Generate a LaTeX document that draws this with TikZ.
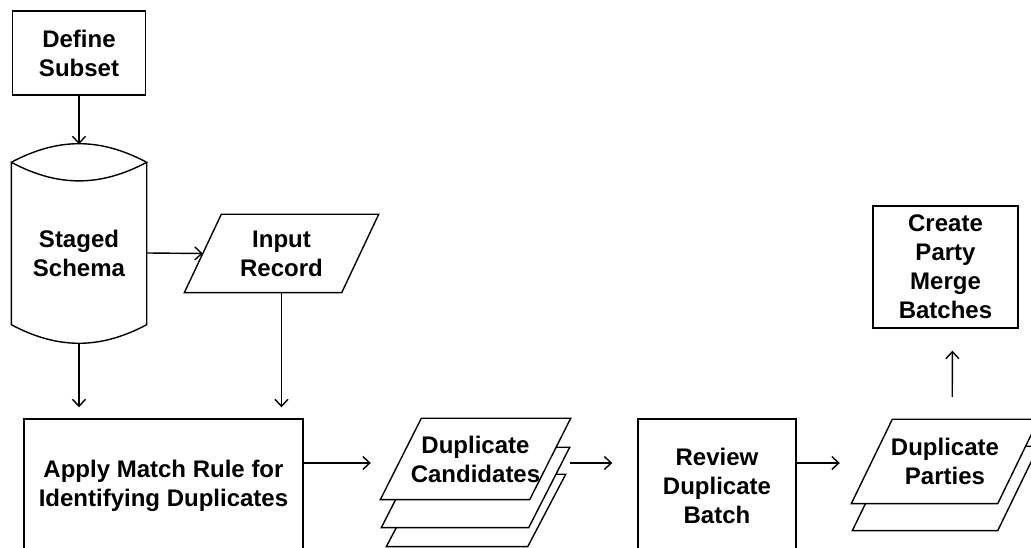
\documentclass[tikz,border=0pt]{standalone}
\usepackage{fontspec}
\setmainfont{Liberation Sans}
\usetikzlibrary{arrows.meta,backgrounds}
\tikzset{
  procbox/.style = {shape=rectangle, draw, fill=white, align=center, inner sep=0pt},
  iobox/.style   = {shape=rectangle, align=center, inner sep=0pt},
  store/.style   = {shape=rectangle, align=center, inner sep=0pt},
  slanted/.style = {draw, fill=white, line width=1.4pt, line join=miter},
  flow/.style    = {draw, line width=1.4pt, -{Straight Barb[length=7pt,width=13pt]}}
}

\begin{document}
\begin{tikzpicture}
  [
    x                 = 1pt,
    y                 = 1pt,
    line width        = 1.4pt,
    every node/.style = {font=\bfseries\fontsize{24}{29}\selectfont}
  ]
  \useasboundingbox (0,0) rectangle (1031,548);
  \clip (0,0) rectangle (1031,548);

  \node [procbox, minimum width=133pt, minimum height=84pt] (subset) at (79,495) {Define\\Subset};
  \node [store, minimum width=134pt, minimum height=180pt] (schema) at (79,295) {Staged\\Schema};
  \draw (schema.north west) to[bend left=28] (schema.north east)
        to[bend left=28] (schema.north west)
        -- ([yshift=19pt]schema.south west) to[bend right=28] ([yshift=19pt]schema.south east)
        -- (schema.north east);
  \node [iobox, minimum width=156pt, minimum height=77pt] (input) at (281.5,294.5) {Input\\Record};
  \node [procbox, minimum width=279pt, minimum height=133pt] (apply) at (163.5,62.5)
        {Apply Match Rule for\\Identifying Duplicates};

  % stacked documents
  \node [iobox, minimum width=140pt, minimum height=71pt] (cand3) at (476,37.5) {};
  \node [iobox, minimum width=146pt, minimum height=79pt] (cand2) at (475.5,60.5) {};
  \node [iobox, minimum width=148pt, minimum height=80pt] (cand1) at (475.5,89) {Duplicate\\Candidates};

  \node [procbox, minimum width=158pt, minimum height=133pt] (review) at (717,62.5)
        {Review\\Duplicate\\Batch};

  \node [iobox, minimum width=144pt, minimum height=83pt] (part2) at (945.5,59.5) {};
  \node [iobox, minimum width=145pt, minimum height=83pt] (part1) at (945,86.5) {Duplicate\\Parties};
  \node [procbox, minimum width=145pt, minimum height=122pt] (create) at (945.5,281)
        {Create\\Party\\Merge\\Batches};

  % slanted outlines, back to front
  \begin{pgfonlayer}{background}
    \foreach \n/\e in {input/18.5, cand3/19, cand2/20.5, cand1/20.5, part2/20.5, part1/20.5}
      \draw [slanted] ([xshift=\e pt]\n.north west) -- ([xshift=\e pt]\n.north east)
            -- ([xshift=-\e pt]\n.south east) -- ([xshift=-\e pt]\n.south west) -- cycle;
  \end{pgfonlayer}

  % connectors
  \draw [flow] (subset) -- ([yshift=18pt]schema.north);
  \draw [flow] (schema.east) -- (input.west);
  \draw [flow, shorten >=11pt] (schema.south) -- (schema.south |- apply.north);
  \draw [flow, shorten >=11pt] (input.south) -- (input.south |- apply.north);
  \draw [flow, shorten >=30pt] ([yshift=22.5pt]apply.east)
        -- ([yshift=22.5pt]apply.east -| cand1.west);
  \draw [flow, shorten >=25pt] ([shift={(20.5,22.5)}]review.west -| cand2.north east)
        -- ([yshift=22.5pt]review.west);
  \draw [flow, shorten >=32pt] ([yshift=22.5pt]review.east)
        -- ([yshift=22.5pt]review.east -| part1.west);
  \draw [flow, shorten <=64.5pt, shorten >=22pt] ([xshift=7pt]part1.center) -- ([xshift=7pt]create.south);
\end{tikzpicture}
\end{document}
